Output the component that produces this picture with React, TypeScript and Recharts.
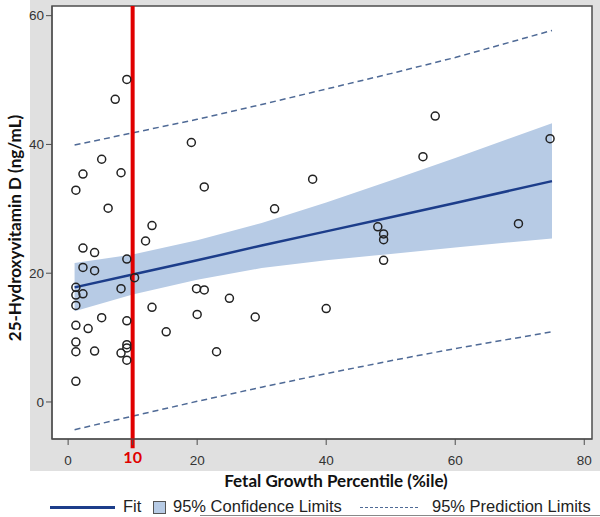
import React from "react";
import { ComposedChart, XAxis, YAxis, Line, Area, Scatter, ReferenceLine, ReferenceArea } from "recharts";

// regression fit, confidence band and prediction limits
const fitX = [1, 10, 20, 30, 40, 50, 60, 75];
const fitY = [17.8, 19.8, 22.0, 24.3, 26.5, 28.7, 30.9, 34.3];
const ciLow = [14.1, 16.7, 19.0, 20.8, 22.0, 23.0, 24.0, 25.4];
const ciHigh = [21.6, 22.9, 25.1, 27.8, 31.0, 34.4, 37.9, 43.3];
const piLow = [-4.3, -2.2, 0.1, 2.3, 4.4, 6.4, 8.3, 10.9];
const piHigh = [39.9, 41.8, 43.9, 46.2, 48.6, 51.0, 53.5, 57.7];

// observations
const obsX = [
  9.1, 7.3, 5.2, 2.3, 8.2, 1.2, 6.2, 13.0, 12.0, 2.3, 4.1, 9.1,
  2.3, 4.1, 10.3, 1.2, 1.2, 2.3, 8.2, 1.2, 13.0, 5.2, 9.1, 1.2,
  3.1, 1.2, 1.2, 4.1, 9.1, 9.1, 8.2, 9.1, 1.2,
  19.1, 21.1, 37.9, 32.0, 19.9, 21.1, 25.0, 20.0, 29.0, 40.0, 15.2, 23.0,
  56.9, 55.0, 74.7, 48.0, 48.9, 48.9, 69.8, 48.9,
];
const obsY = [
  50.1, 47.0, 37.7, 35.4, 35.6, 32.9, 30.1, 27.4, 25.0, 23.9, 23.2, 22.2,
  20.9, 20.4, 19.3, 17.8, 16.6, 16.8, 17.6, 15.0, 14.7, 13.1, 12.6, 11.9,
  11.4, 9.3, 7.8, 7.9, 8.9, 8.4, 7.6, 6.5, 3.2,
  40.3, 33.4, 34.6, 30.0, 17.6, 17.4, 16.1, 13.6, 13.2, 14.5, 10.9, 7.8,
  44.4, 38.1, 40.9, 27.2, 26.1, 25.2, 27.7, 22.0,
];

const xTicks = [0, 10, 20, 40, 60, 80];
const yTicks = [0, 20, 40, 60];
const cutoff = 10;

const fitData = fitX.map((x, i) => ({
  x,
  fit: fitY[i],
  ci: [ciLow[i], ciHigh[i]],
  piLow: piLow[i],
  piHigh: piHigh[i],
}));
const points = obsX.map((x, i) => ({ x, y: obsY[i] }));

const xDomain = [-2.5, 81.2];
const yDomain = [-5.75, 61.5];

const sans = "'Liberation Sans', Arial, sans-serif";
const bold = "Lato, 'Open Sans', sans-serif";

function XTick(props: any) {
  const { x, y, payload } = props;
  if (payload.value === cutoff) {
    return (
      <text x={x} y={y + 16} textAnchor="middle" fill="#e00000" fontSize={16} fontWeight={700} fontFamily={bold}>
        {payload.value}
      </text>
    );
  }
  return (
    <text x={x} y={y + 18} textAnchor="middle" fill="#333" fontSize={13.5} fontFamily={sans}>
      {payload.value}
    </text>
  );
}

function Ring(props: any) {
  const { cx, cy } = props;
  return <circle cx={cx} cy={cy} r={4} fill="none" stroke="#222" strokeWidth={1.5} />;
}

export default function App() {
  return (
    <div style={{ position: "absolute", left: 0, top: 0, width: 600, height: 517, background: "#fff" }}>
      <div style={{ position: "absolute", left: 30, top: 0, width: 570, height: 471, background: "#e0e0e0" }} />
      <div style={{ position: "absolute", left: 0, top: 0 }}>
        <ComposedChart width={600} height={517} data={fitData} margin={{ top: 6, right: 8, bottom: 48, left: 0 }}>
          <XAxis
            type="number"
            dataKey="x"
            domain={xDomain}
            ticks={xTicks}
            tick={<XTick />}
            tickSize={6}
            height={30}
            axisLine={{ stroke: "#4d4d4d" }}
            tickLine={{ stroke: "#4d4d4d" }}
            allowDataOverflow
          />
          <YAxis
            type="number"
            domain={yDomain}
            ticks={yTicks}
            width={52}
            tickSize={6}
            tick={{ fill: "#333", fontSize: 13.5, fontFamily: sans }}
            axisLine={{ stroke: "#4d4d4d" }}
            tickLine={{ stroke: "#4d4d4d" }}
            allowDataOverflow
          />
          <ReferenceArea
            x1={xDomain[0]}
            x2={xDomain[1]}
            y1={yDomain[0]}
            y2={yDomain[1]}
            fill="#fff"
            fillOpacity={1}
            stroke="#4d4d4d"
            strokeWidth={1.5}
          />
          <Area dataKey="ci" type="linear" fill="#b7cbe5" fillOpacity={1} stroke="none" isAnimationActive={false} />
          <Line dataKey="piHigh" type="linear" stroke="#4f6a96" strokeWidth={1.5} strokeDasharray="6 4" dot={false} isAnimationActive={false} />
          <Line dataKey="piLow" type="linear" stroke="#4f6a96" strokeWidth={1.5} strokeDasharray="6 4" dot={false} isAnimationActive={false} />
          <Line dataKey="fit" type="linear" stroke="#1c3d8a" strokeWidth={2.5} dot={false} isAnimationActive={false} />
          <Scatter data={points} dataKey="y" shape={<Ring />} isAnimationActive={false} />
          <ReferenceLine
            segment={[{ x: cutoff, y: yDomain[1] }, { x: cutoff, y: -7.2 }]}
            stroke="#e00000"
            strokeWidth={4}
            ifOverflow="visible"
          />
        </ComposedChart>
      </div>
      <div
        style={{
          position: "absolute",
          left: 14,
          top: 228,
          transform: "translate(-50%, -50%) rotate(-90deg)",
          whiteSpace: "nowrap",
          fontFamily: bold,
          fontWeight: 700,
          fontSize: 17,
          color: "#111",
        }}
      >
        25-Hydroxyvitamin D (ng/mL)
      </div>
      <div
        style={{
          position: "absolute",
          left: 336,
          top: 480,
          transform: "translate(-50%, -50%)",
          whiteSpace: "nowrap",
          fontFamily: bold,
          fontWeight: 700,
          fontSize: 17,
          color: "#111",
        }}
      >
        Fetal Growth Percentile (%ile)
      </div>
      <div style={{ position: "absolute", left: 0, top: 497, width: 600, height: 20, fontFamily: sans, fontSize: 16.5, color: "#222" }}>
        <div style={{ position: "absolute", left: 50, top: 9, width: 65, height: 3, background: "#1c3d8a" }} />
        <span style={{ position: "absolute", left: 123, top: 0 }}>Fit</span>
        <div style={{ position: "absolute", left: 153, top: 4, width: 11, height: 11, background: "#b7cbe5", border: "1px solid #555" }} />
        <span style={{ position: "absolute", left: 173, top: 0 }}>95% Confidence Limits</span>
        <div style={{ position: "absolute", left: 360, top: 10, width: 58, borderTop: "1.5px dashed #4f6a96" }} />
        <span style={{ position: "absolute", left: 432, top: 0 }}>95% Prediction Limits</span>
      </div>
      <div style={{ position: "absolute", left: 200, top: 515, width: 400, height: 1, background: "#888" }} />
    </div>
  );
}
